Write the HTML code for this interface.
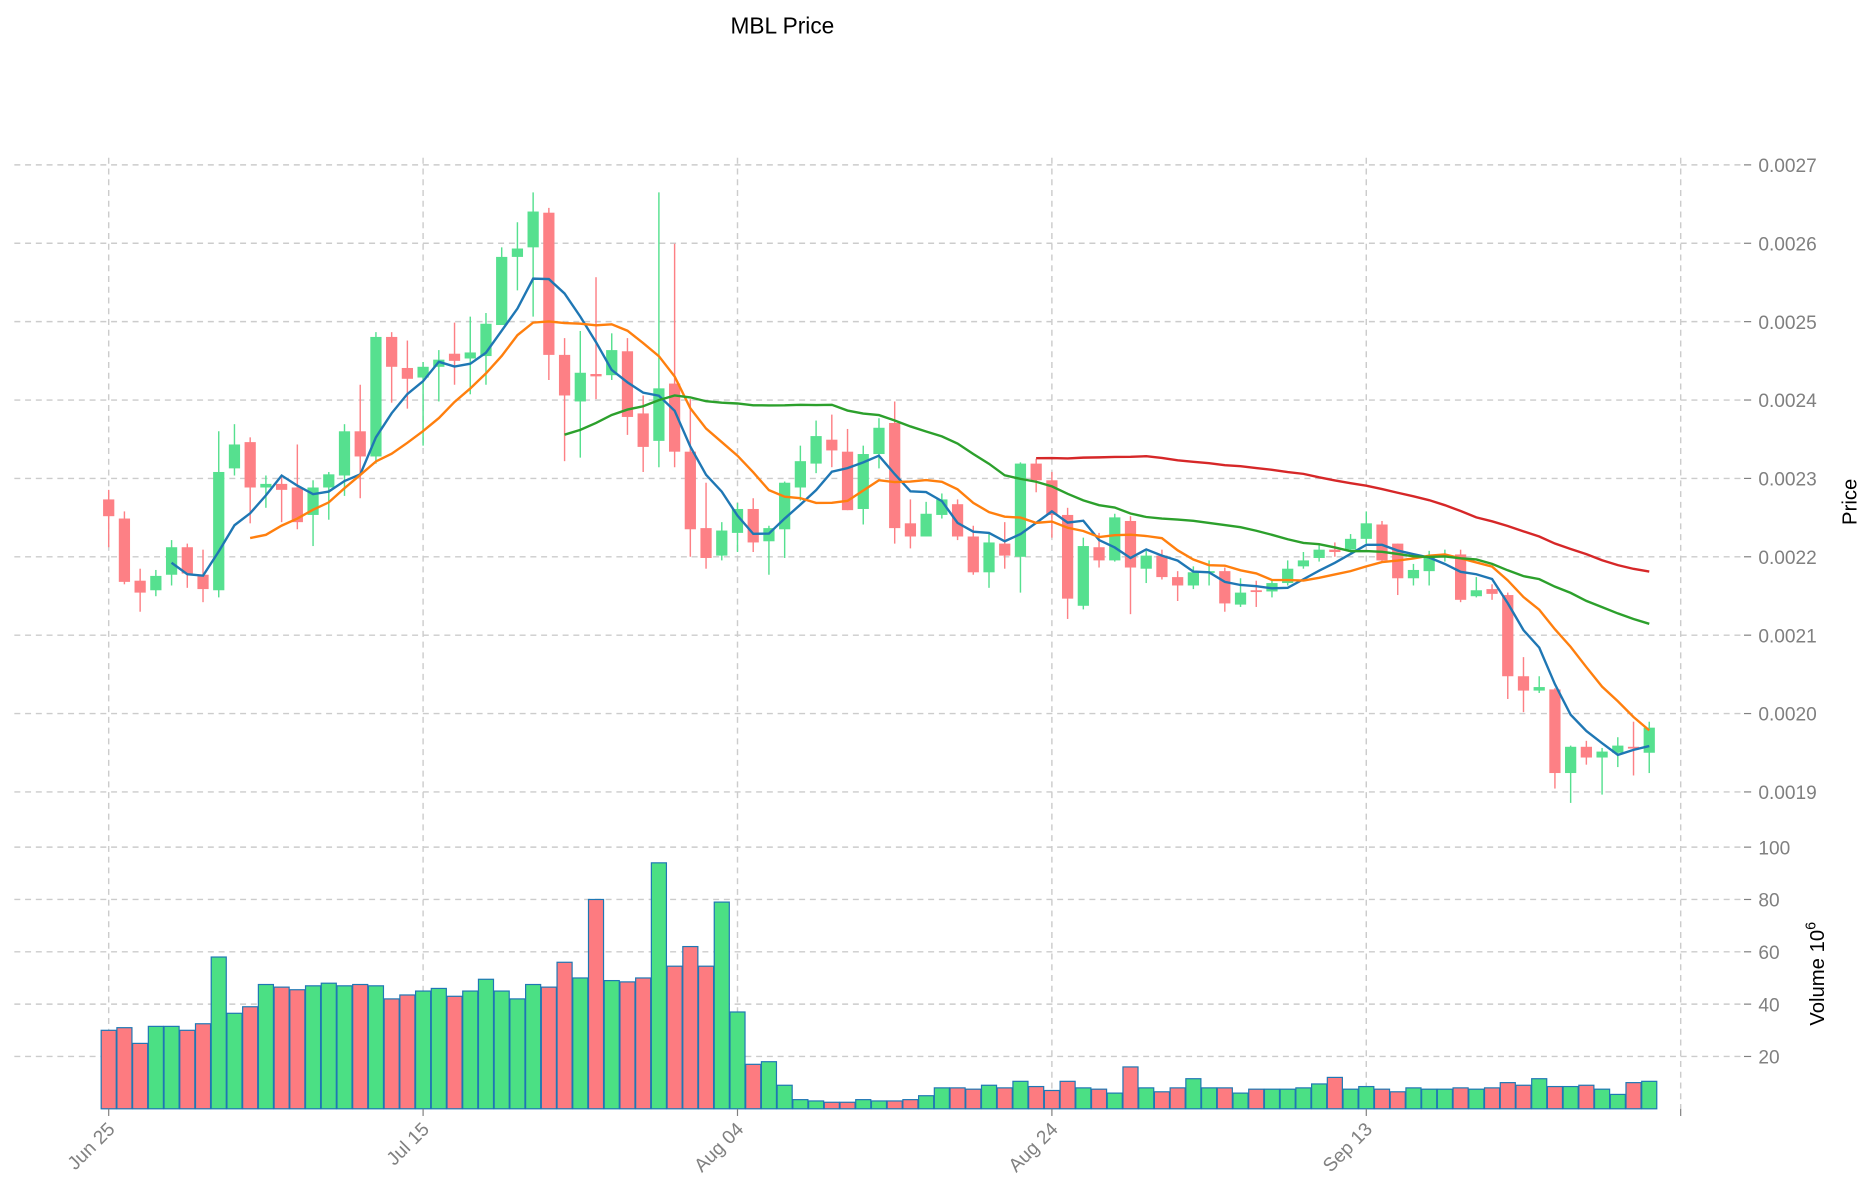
<!DOCTYPE html>
<html><head><meta charset="utf-8"><style>
html,body{margin:0;padding:0;background:#fff;}
svg{display:block;font-family:"Liberation Sans","DejaVu Sans",sans-serif;}
</style></head><body>
<svg id="chart" width="1873" height="1202" viewBox="0 0 1568 1006" preserveAspectRatio="none" xmlns="http://www.w3.org/2000/svg">
<text x="655" y="28" font-size="19" text-anchor="middle" fill="#000">MBL Price</text>
<g id="grid"></g>
<g id="vol"></g>
<g id="candles"></g>
<g id="mas"></g>
<g id="axes"></g>
<text x="0" y="0" font-size="17" text-anchor="middle" transform="translate(1554,420) rotate(-90)">Price</text>
<text x="0" y="0" font-size="17" text-anchor="middle" transform="translate(1527,815) rotate(-90)">Volume  10<tspan dy="-7" font-size="12">6</tspan></text>
</svg>
<script>
// ---- data (prices in units of 1e-3) ----
const openY = [418,434,486,494,481,458,481,494,392,370,408,405,408,431,408,398,361,382,282,308,316,307,296,300,298,272,215,207,178,297,336,313,314,294,346,369,321,378,442,465,446,426,453,443,408,388,368,378,426,380,354,438,449,431,422,449,479,455,466,388,402,431,507,458,469,436,476,465,483,490,479,478,506,494,495,488,474,467,460,460,451,439,455,484,478,466,464,499,493,498,566,578,577,647,625,634,630,625,630];
const closeY= [432,487,496,482,458,480,493,395,372,408,405,410,437,408,397,361,382,282,307,317,307,301,302,295,271,215,208,177,297,331,312,315,293,349,374,325,378,443,467,444,426,454,442,404,386,365,377,427,380,358,442,449,430,418,449,479,454,465,388,402,431,501,457,469,433,475,465,483,490,479,478,505,496,495,488,476,469,460,462,451,438,469,484,477,465,465,502,494,497,566,578,575,647,625,634,629,624,626,609];
const highY = [410,428,476,477,452,455,460,361,355,366,398,398,372,402,395,355,322,278,278,285,303,293,270,265,262,207,186,161,174,283,277,232,279,283,331,161,204,334,404,437,421,417,440,403,373,352,347,359,373,350,336,418,420,413,418,440,446,437,387,384,395,425,450,446,430,432,461,460,478,474,469,475,484,486,486,469,462,456,454,447,428,436,455,472,461,460,460,483,489,496,550,566,576,624,620,626,617,604,604];
const lowY  = [458,489,512,499,490,492,504,500,398,438,425,437,443,457,435,415,417,388,337,342,373,336,322,330,322,236,243,265,318,386,383,334,318,364,395,391,391,466,476,469,462,462,481,467,419,396,391,427,439,392,455,459,449,434,452,481,492,476,496,412,450,518,510,475,470,514,488,485,503,493,490,512,508,508,500,490,476,470,466,462,455,470,498,490,490,470,504,500,502,585,596,580,660,672,640,665,642,649,647];
const volumes = [30,31,25,31.5,31.5,30,32.5,58,36.5,39,47.5,46.5,45.5,47,48,47,47.5,47,42,43.5,45,46,43,45,49.5,45,42,47.5,46.5,56,50,80,49,48.5,50,94,54.5,62,54.5,79,37,17,18,9,3.5,3,2.5,2.5,3.5,3,3,3.5,5,8,8,7.5,9,8,10.5,8.5,7,10.5,8,7.5,6,16,8,6.5,8,11.5,8,8,6,7.5,7.5,7.5,8,9.5,12,7.5,8.5,7.5,6.5,8,7.5,7.5,8,7.5,8,10,9,11.5,8.5,8.5,9,7.5,5.5,10,10.5];
const priceTicks = [0.0019,0.0020,0.0021,0.0022,0.0023,0.0024,0.0025,0.0026,0.0027];
const volTicks = [20,40,60,80,100];
const dateLabels = ["Jun 25","Jul 15","Aug 04","Aug 24","Sep 13",""];
const dateIdx = [0,20,40,60,80,100];
const maPeriods = [5,10,30,60];
const maColors = ["#1f77b4","#ff7f0e","#2ca02c","#d62728"];

// convert read pixel rows to prices
const toP = y => +(0.0027 - (y-138)/65.6*0.0001).toFixed(7);
const opens = openY.map(toP), closes = closeY.map(toP), highs = highY.map(toP), lows = lowY.map(toP);

// ---- axes functions ----
const xS = i => 91 + i*13.16;
const yP = p => 138 + (0.0027 - p)/0.0001*65.6;
const yV = v => 928 - v*2.19;
const NS = "http://www.w3.org/2000/svg";
function mk(tag, parent, attrs){const e=document.createElementNS(NS,tag);for(const k in attrs)e.setAttribute(k,attrs[k]);parent.appendChild(e);return e;}
const grid=document.getElementById('grid'), vol=document.getElementById('vol'), cg=document.getElementById('candles'), mg=document.getElementById('mas'), ax=document.getElementById('axes');
const L=12, R=1460;

priceTicks.forEach(t=>{
  const y=yP(t);
  const g=mk('line',grid,{x1:L,x2:R,y1:y,y2:y,stroke:'#cccccc','stroke-dasharray':'5,4','stroke-width':1.2});
  
  
  mk('line',ax,{x1:R,x2:R+6,y1:y,y2:y,stroke:'#808080'});
  const tx=mk('text',ax,{x:R+12,y:y+6,'font-size':16,fill:'#808080'});
  tx.textContent=t.toFixed(4);
  
  
});
volTicks.forEach(t=>{
  const y=yV(t);
  const g=mk('line',grid,{x1:L,x2:R,y1:y,y2:y,stroke:'#cccccc','stroke-dasharray':'5,4','stroke-width':1.2});
  
  
  mk('line',ax,{x1:R,x2:R+6,y1:y,y2:y,stroke:'#808080'});
  const tx=mk('text',ax,{x:R+12,y:y+6,'font-size':16,fill:'#808080'});
  tx.textContent=t;
  
  
});
dateIdx.forEach((d,k)=>{
  const x=xS(d);
  const g=mk('line',grid,{x1:x,x2:x,y1:132,y2:928,stroke:'#cccccc','stroke-dasharray':'5,4','stroke-width':1.2});
  
  
  mk('line',ax,{x1:x,x2:x,y1:928,y2:934,stroke:'#808080'});
  if(dateLabels[k]){
    const tx=mk('text',ax,{x:0,y:0,'font-size':16,fill:'#808080','text-anchor':'end',transform:`translate(${x+6},${946}) rotate(-45)`});
    tx.textContent=dateLabels[k];
    
    
  }
});

volumes.forEach((v,i)=>{
  const up = closes[i]>=opens[i];
  const x=xS(i);
  const r=mk('rect',vol,{x:x-6.3,y:yV(v),width:12.6,height:928-yV(v),fill:up?'#4be084':'#fd7b80',stroke:'#1f77b4','stroke-width':1});
  
  
});

opens.forEach((o,i)=>{
  const c=closes[i], up=c>=o, col=up?'#56e08f':'#fd8085', x=xS(i);
  const w=mk('line',cg,{x1:x,x2:x,y1:yP(highs[i]),y2:yP(lows[i]),stroke:col,'stroke-width':1.2});
  
  
  const yt=yP(Math.max(o,c)), yb=yP(Math.min(o,c));
  const b=mk('rect',cg,{x:x-4.7,y:yt,width:9.4,height:Math.max(1.5,yb-yt),fill:col});
  
  
});

maPeriods.forEach((n,k)=>{
  const pts=[];
  for(let i=n-1;i<closes.length;i++){
    let s=0;for(let j=i-n+1;j<=i;j++)s+=closes[j];
    pts.push(xS(i).toFixed(1)+','+yP(s/n).toFixed(1));
  }
  const pl=mk('polyline',mg,{points:pts.join(' '),fill:'none',stroke:maColors[k],'stroke-width':2});
  
  
});
</script>
</body></html>
